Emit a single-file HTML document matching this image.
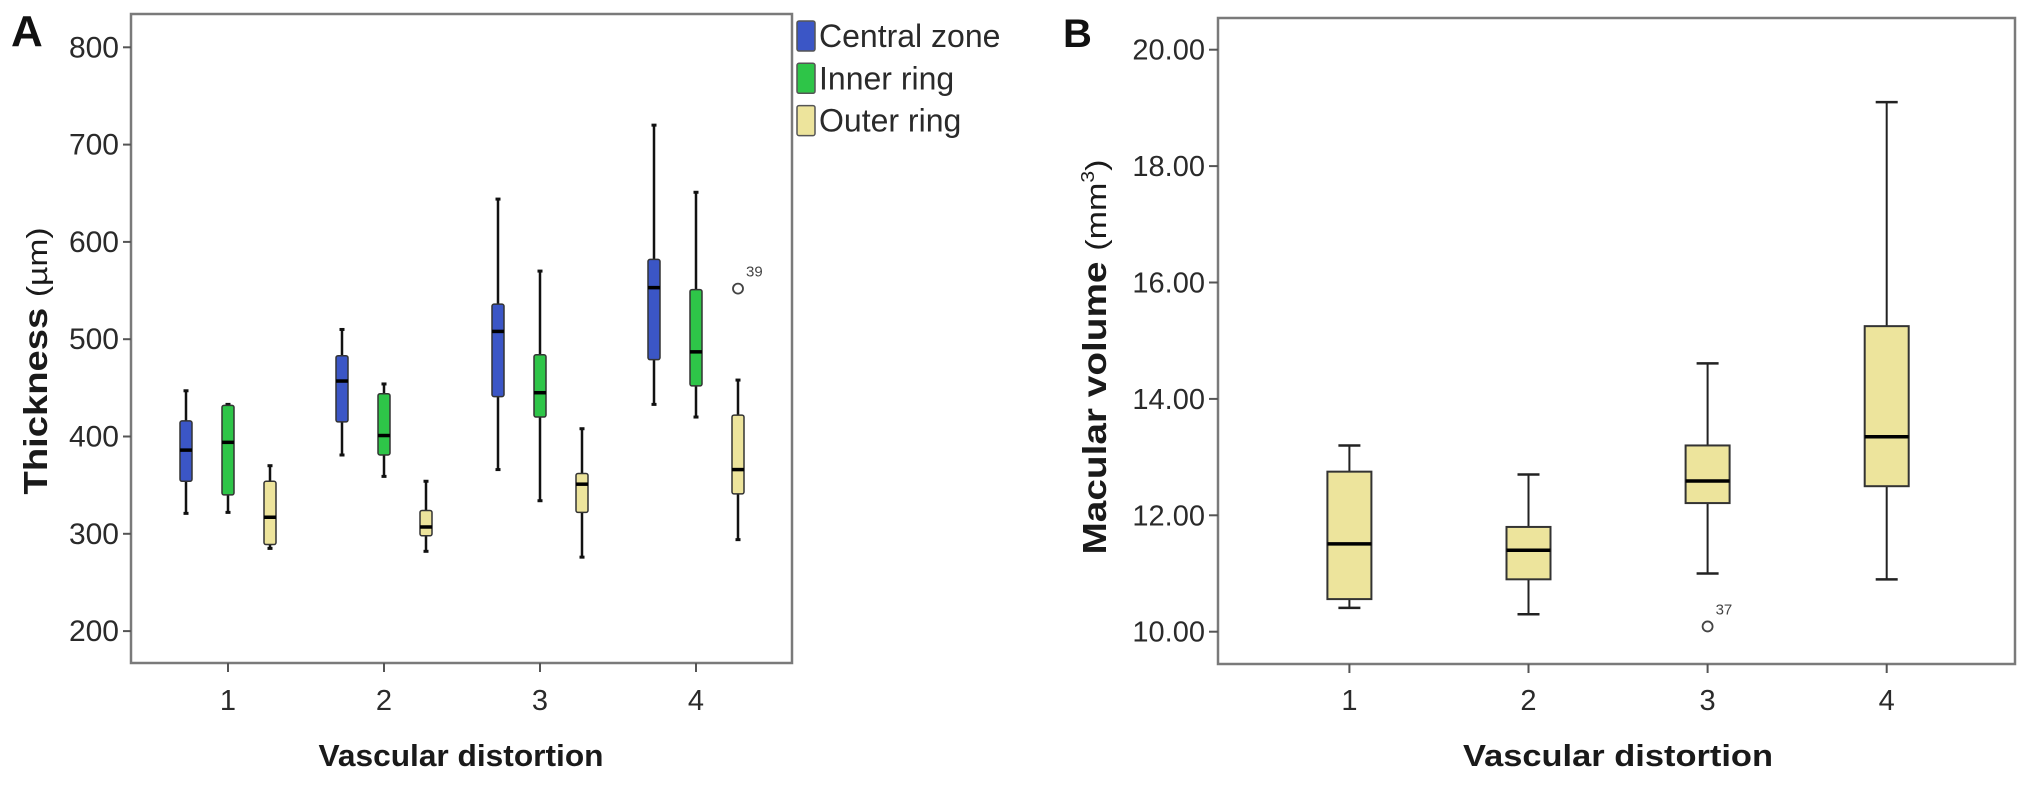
<!DOCTYPE html>
<html><head><meta charset="utf-8">
<style>
html,body{margin:0;padding:0;background:#fff;}
svg{display:block;font-family:"Liberation Sans",Arial,sans-serif;}
</style></head>
<body>
<svg id="chart" width="2031" height="789" viewBox="0 0 2031 789">
<g id="pa"></g>
<g id="pb"></g>
</svg>
<script>
// Panel A data
const categoriesA = ["1","2","3","4"];
const seriesNames = ["Central zone","Inner ring","Outer ring"];
const seriesColors = ["#3b56c6","#2ec548","#ede49c"];
// [whiskerLow, q1, median, q3, whiskerHigh] per category
const centralZone = [[321,354,386,416,447],[381,415,457,483,510],[366,441,508,536,644],[433,479,553,582,720]];
const innerRing   = [[322,340,394,432,433],[359,381,401,444,454],[334,420,445,484,570],[420,452,487,551,651]];
const outerRing   = [[285,289,317,354,370],[282,298,307,324,354],[276,322,351,362,408],[294,341,366,422,458]];
const outliersA = [{cat:3, series:2, value:552, label:"39"}];
const ticksA = [200,300,400,500,600,700,800];

// Panel B data
const categoriesB = ["1","2","3","4"];
const macularVolume = [[10.41,10.56,11.51,12.75,13.20],[10.30,10.90,11.40,11.80,12.70],[11.00,12.21,12.59,13.20,14.61],[10.90,12.50,13.35,15.25,19.10]];
const outliersB = [{cat:2, value:10.09, label:"37"}];
const ticksB = [10,12,14,16,18,20];
const tickLabelsB = ["10.00","12.00","14.00","16.00","18.00","20.00"];

const NS="http://www.w3.org/2000/svg";
function mk(tag, attrs, parent, text){
  const e=document.createElementNS(NS,tag);
  for(const k in attrs) e.setAttribute(k,attrs[k]);
  if(text!==undefined) e.textContent=text;
  parent.appendChild(e); return e;
}
const pa=document.getElementById('pa'), pb=document.getElementById('pb');

// ---- Panel A ----
const A={l:131,r:792,t:14,b:663};
const yA=v=>47.3+(800-v)*0.973;
const xA=i=>228+i*156;
let e;
e=mk('rect',{x:A.l,y:A.t,width:A.r-A.l,height:A.b-A.t,fill:'none',stroke:'#7a7a7a','stroke-width':2.5},pa);


ticksA.forEach(v=>{
  const t=mk('line',{x1:A.l-8,x2:A.l,y1:yA(v),y2:yA(v),stroke:'#555','stroke-width':2},pa);
  
  
  const l=mk('text',{x:A.l-12,y:yA(v)+10,'text-anchor':'end','font-size':30,fill:'#2a2a2a'},pa,String(v));
  
  
});
categoriesA.forEach((c,i)=>{
  const t=mk('line',{x1:xA(i),x2:xA(i),y1:A.b,y2:A.b+9,stroke:'#555','stroke-width':2},pa);
  
  
  const l=mk('text',{x:xA(i),y:710,'text-anchor':'middle','font-size':29,fill:'#2a2a2a'},pa,c);
  
  
});
const seriesA=[centralZone,innerRing,outerRing];
const offs=[-42,0,42];
function boxA(cx,d,col,w){
  const g=mk('g',{},pa);
  
  
  mk('line',{x1:cx,x2:cx,y1:yA(d[0]),y2:yA(d[4]),stroke:'#111','stroke-width':2.5},g);
  mk('line',{x1:cx-2.5,x2:cx+2.5,y1:yA(d[4]),y2:yA(d[4]),stroke:'#111','stroke-width':3},g);
  mk('line',{x1:cx-2.5,x2:cx+2.5,y1:yA(d[0]),y2:yA(d[0]),stroke:'#111','stroke-width':3},g);
  mk('rect',{x:cx-w/2,y:yA(d[3]),width:w,height:yA(d[1])-yA(d[3]),fill:col,stroke:'#333','stroke-width':1.5,rx:2},g);
  mk('line',{x1:cx-w/2,x2:cx+w/2,y1:yA(d[2]),y2:yA(d[2]),stroke:'#000','stroke-width':3.5},g);
}
categoriesA.forEach((c,i)=>{
  seriesA.forEach((s,j)=>boxA(xA(i)+offs[j],s[i],seriesColors[j],12));
});
outliersA.forEach(o=>{
  const cx=xA(o.cat)+offs[o.series];
  const c=mk('circle',{cx:cx,cy:yA(o.value),r:5,fill:'#fff',stroke:'#444','stroke-width':1.8},pa);
  
  
  const l=mk('text',{x:cx+8,y:yA(o.value)-12,'font-size':15,fill:'#444'},pa,o.label);
  
  
});
e=mk('text',{x:461,y:766,'text-anchor':'middle','font-size':31,'font-weight':'bold',fill:'#1a1a1a',textLength:285,lengthAdjust:'spacingAndGlyphs'},pa,'Vascular  distortion');


e=mk('text',{x:0,y:0,transform:'translate(47,361) rotate(-90)','text-anchor':'middle','font-size':33,fill:'#1a1a1a',textLength:267,lengthAdjust:'spacingAndGlyphs'},pa);


mk('tspan',{'font-weight':'bold'},e,'Thickness ');
mk('tspan',{'font-size':29},e,'(µm)');
e=mk('text',{x:11,y:46,'font-size':44,'font-weight':'bold',fill:'#111'},pa,'A');


// legend
seriesNames.forEach((n,j)=>{
  const g=mk('g',{},pa);
  
  
  mk('rect',{x:797,y:21+j*42.3,width:18,height:30,fill:seriesColors[j],stroke:'#555','stroke-width':1.5,rx:2},g);
  mk('text',{x:819,y:47+j*42.3,'font-size':32,fill:'#2a2a2a'},g,n);
});

// ---- Panel B ----
const B={l:1218,r:2015,t:18,b:664};
const yB=v=>631.7-(v-10)*58.2;
const xB=i=>1349.4+i*179.1;
e=mk('rect',{x:B.l,y:B.t,width:B.r-B.l,height:B.b-B.t,fill:'none',stroke:'#7a7a7a','stroke-width':2.5},pb);


ticksB.forEach((v,k)=>{
  const t=mk('line',{x1:B.l-9,x2:B.l,y1:yB(v),y2:yB(v),stroke:'#555','stroke-width':2},pb);
  
  
  const l=mk('text',{x:B.l-13,y:yB(v)+10,'text-anchor':'end','font-size':29,fill:'#2a2a2a'},pb,tickLabelsB[k]);
  
  
});
categoriesB.forEach((c,i)=>{
  const t=mk('line',{x1:xB(i),x2:xB(i),y1:B.b,y2:B.b+9,stroke:'#555','stroke-width':2},pb);
  
  
  const l=mk('text',{x:xB(i),y:710,'text-anchor':'middle','font-size':29,fill:'#2a2a2a'},pb,c);
  
  
  const d=macularVolume[i], cx=xB(i), w=44;
  const g=mk('g',{},pb);
  
  
  mk('line',{x1:cx,x2:cx,y1:yB(d[0]),y2:yB(d[4]),stroke:'#222','stroke-width':2},g);
  mk('line',{x1:cx-11,x2:cx+11,y1:yB(d[4]),y2:yB(d[4]),stroke:'#222','stroke-width':2.5},g);
  mk('line',{x1:cx-11,x2:cx+11,y1:yB(d[0]),y2:yB(d[0]),stroke:'#222','stroke-width':2.5},g);
  mk('rect',{x:cx-w/2,y:yB(d[3]),width:w,height:yB(d[1])-yB(d[3]),fill:'#ede49c',stroke:'#333','stroke-width':2},g);
  mk('line',{x1:cx-w/2,x2:cx+w/2,y1:yB(d[2]),y2:yB(d[2]),stroke:'#000','stroke-width':3.5},g);
});
outliersB.forEach(o=>{
  const cx=xB(o.cat);
  const c=mk('circle',{cx:cx,cy:yB(o.value),r:5,fill:'#fff',stroke:'#444','stroke-width':1.8},pb);
  
  
  const l=mk('text',{x:cx+8,y:yB(o.value)-12,'font-size':15,fill:'#444'},pb,o.label);
  
  
});
e=mk('text',{x:1618,y:766,'text-anchor':'middle','font-size':31,'font-weight':'bold',fill:'#1a1a1a',textLength:310,lengthAdjust:'spacingAndGlyphs'},pb,'Vascular  distortion');


e=mk('text',{x:0,y:0,transform:'translate(1106,357) rotate(-90)','text-anchor':'middle','font-size':33,fill:'#1a1a1a',textLength:395,lengthAdjust:'spacingAndGlyphs'},pb);


mk('tspan',{'font-weight':'bold'},e,'Macular  volume  ');
mk('tspan',{'font-size':29},e,'(mm');
mk('tspan',{'font-size':18,dy:-12},e,'3');
mk('tspan',{'font-size':29,dy:12},e,')');
e=mk('text',{x:1063,y:47,'font-size':40,'font-weight':'bold',fill:'#111'},pb,'B');


</script>
</body></html>
